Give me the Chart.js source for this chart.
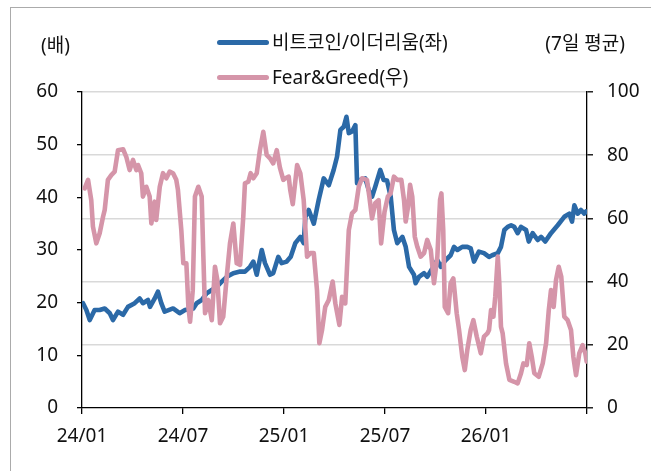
<!DOCTYPE html>
<html><head><meta charset="utf-8">
<script src="https://cdn.jsdelivr.net/npm/chart.js@4.4.1/dist/chart.umd.min.js"></script>
<style>
html,body{margin:0;padding:0;background:#fff;overflow:hidden;}
#wrap{position:relative;width:651px;height:471px;overflow:hidden;}
#frame{position:absolute;left:10px;top:7px;width:700px;height:520px;border:1.5px solid #ababab;}
canvas{position:absolute;left:0;top:0;}
.t{position:absolute;font-family:'Noto Sans','Noto Sans CJK KR',sans-serif;font-size:19px;line-height:24px;color:#111;white-space:nowrap;}
.lg{position:absolute;height:5px;border-radius:2.5px;width:52px;}
</style></head>
<body><div id="wrap"><div id="frame"></div><canvas id="c" width="651" height="471"></canvas>
<div class="t" style="left:41px;top:33px">(배)</div>
<div class="t" style="right:26px;top:31px">(7일 평균)</div>
<div id="legend"></div>
</div>
<script>
// ---- data (x = months since 2024-01) ----
const xTickMonths = [0, 6, 12, 18, 24, 30];
const xTickLabels = ['24/01', '24/07', '25/01', '25/07', '26/01', ''];

const btcEthMonths = [0.06,0.26,0.46,0.75,1.05,1.35,1.65,1.84,2.14,2.44,
2.73,3.13,3.43,3.62,3.92,4.04,4.32,4.51,4.71,4.91,
5.41,5.80,6.12,6.61,6.81,7.11,7.41,7.71,8.00,8.30,
8.60,8.99,9.39,9.68,9.98,10.18,10.38,10.68,10.87,11.17,
11.36,11.66,11.86,12.16,12.40,12.67,12.97,13.17,13.27,13.47,
13.77,14.06,14.36,14.66,14.95,15.15,15.35,15.55,15.71,15.85,
16.04,16.24,16.34,16.53,16.83,17.03,17.23,17.42,17.72,17.92,
18.12,18.34,18.53,18.73,19.03,19.23,19.43,19.72,19.82,20.02,
20.32,20.51,20.81,21.11,21.31,21.61,21.90,22.10,22.30,22.59,
22.89,23.09,23.29,23.58,23.88,24.18,24.37,24.70,24.89,25.09,
25.29,25.49,25.68,25.88,26.08,26.38,26.54,26.77,27.07,27.27,
27.52,27.86,28.26,28.65,28.95,29.11,29.25,29.45,29.64,29.84,
29.94];
const btcEthRatio = [19.9,18.6,16.7,18.6,18.6,18.9,18.0,16.7,18.3,17.7,
19.2,19.9,20.8,19.9,20.5,19.2,20.8,22.1,19.9,18.3,
18.9,18.0,18.6,18.9,19.9,20.5,21.8,22.4,23.0,24.0,
24.9,25.6,25.9,25.9,26.8,27.8,25.3,30.0,27.5,25.3,
25.6,28.7,27.5,27.8,28.7,31.3,32.5,31.3,36.3,37.6,
35.0,39.5,43.6,42.3,45.2,47.7,52.8,53.4,55.3,52.2,
52.5,53.7,42.7,43.3,43.6,41.4,40.1,42.0,45.2,43.3,
43.2,40.1,33.8,31.3,32.5,30.6,26.8,25.3,23.7,24.9,
25.6,24.9,26.5,28.1,26.8,28.1,29.0,30.6,30.0,30.6,
30.6,30.3,27.8,29.7,29.4,28.7,29.0,29.4,30.6,33.8,
34.4,34.7,34.4,33.2,34.4,33.8,31.6,33.2,31.9,32.5,
31.6,33.2,34.7,36.3,36.9,35.4,38.5,36.9,37.6,36.9,
37.3];

const fearGreedMonths = [0.16,0.36,0.55,0.65,0.85,1.05,1.25,1.35,1.54,1.74,
1.94,2.14,2.44,2.63,2.83,3.03,3.23,3.33,3.52,3.62,
3.82,4.02,4.12,4.32,4.41,4.62,4.81,5.01,5.21,5.41,
5.60,5.70,5.90,6.02,6.20,6.32,6.42,6.58,6.71,6.91,
7.11,7.21,7.31,7.50,7.71,7.90,8.04,8.20,8.39,8.60,
8.79,8.99,9.19,9.39,9.58,9.68,9.88,10.02,10.18,10.38,
10.57,10.77,10.97,11.17,11.36,11.57,11.76,11.96,12.08,12.28,
12.37,12.52,12.78,12.97,13.17,13.37,13.56,13.77,13.96,14.10,
14.26,14.45,14.66,14.89,15.05,15.29,15.45,15.64,15.85,16.04,
16.24,16.44,16.63,16.93,17.07,17.23,17.42,17.62,17.77,17.97,
18.17,18.33,18.53,18.73,18.97,19.13,19.23,19.37,19.49,19.62,
19.77,19.92,20.12,20.32,20.51,20.72,20.91,21.11,21.27,21.35,
21.46,21.55,21.75,21.90,22.06,22.26,22.40,22.59,22.74,22.89,
23.09,23.25,23.45,23.69,23.88,24.08,24.18,24.30,24.44,24.55,
24.70,24.79,24.89,24.99,25.19,25.39,25.68,25.88,26.08,26.22,
26.42,26.57,26.72,26.87,27.13,27.37,27.57,27.73,27.86,28.02,
28.16,28.32,28.47,28.65,28.85,29.05,29.19,29.35,29.54,29.74,
29.90,29.98];
const fearGreedIndex = [69.5,72.2,65.8,57.4,52.1,55.3,60.5,62.7,72.2,73.7,
74.8,81.6,81.9,79.5,75.3,78.5,75.3,76.9,74.3,66.9,
70.0,66.9,58.4,65.3,59.5,70.0,74.3,72.7,74.8,74.3,
72.2,69.0,56.3,45.8,45.8,32.0,27.3,37.3,66.9,70.0,
66.9,47.9,30.0,34.2,27.8,44.7,40.5,26.8,28.9,41.6,
52.1,58.4,45.8,45.3,60.5,71.1,71.6,74.3,72.7,74.3,
81.6,87.4,80.1,79.0,77.4,81.6,76.0,72.2,72.7,73.2,
69.0,64.5,76.9,74.3,65.8,47.9,49.0,49.0,37.3,20.5,
24.7,32.0,34.2,40.0,33.1,26.3,35.2,33.1,56.3,61.6,
62.7,70.0,72.7,72.2,66.9,60.0,64.8,65.8,52.1,62.0,
66.9,67.9,73.2,72.2,72.2,65.8,59.0,63.7,70.6,66.9,
54.2,51.0,47.9,49.0,53.2,50.0,39.5,47.9,65.8,67.9,
56.3,32.0,30.0,39.5,41.0,30.0,24.7,16.2,12.0,18.4,
24.7,27.8,22.6,17.3,22.6,23.6,24.7,31.0,28.9,35.2,
47.9,39.5,25.7,23.6,14.1,8.9,8.3,7.8,11.0,14.1,
13.6,20.5,16.2,11.0,9.9,14.1,20.5,31.0,37.3,32.0,
40.5,44.7,41.6,28.9,27.8,24.7,16.2,10.4,17.3,19.9,
17.3,14.7];

// ---- styles ----
const BLUE = '#2b69a7';
const PINK = '#d595a9';
const FONT = {family: "'Noto Sans','Noto Sans CJK KR',sans-serif", size: 19};
const TXT = '#111';

const blueDs = {label: '비트코인/이더리움(좌)', data: btcEthMonths.map((m, i) => ({x: m, y: btcEthRatio[i]})),
  yAxisID: 'yL', borderColor: BLUE, backgroundColor: BLUE, borderWidth: 4.6, pointRadius: 0, tension: 0,
  borderJoinStyle: 'round', borderCapStyle: 'round', order: 1};
const pinkDs = {label: 'Fear&Greed(우)', data: fearGreedMonths.map((m, i) => ({x: m, y: fearGreedIndex[i]})),
  yAxisID: 'yR', borderColor: PINK, backgroundColor: PINK, borderWidth: 4.6, pointRadius: 0, tension: 0,
  borderJoinStyle: 'round', borderCapStyle: 'round', order: 0};

new Chart(document.getElementById('c'), {
  type: 'line',
  data: {datasets: [blueDs, pinkDs]},
  options: {
    responsive: false, animation: false, devicePixelRatio: 1,
    layout: {padding: {top: 92, left: 0, right: 0, bottom: 0}},
    plugins: {legend: {display: false}, tooltip: {enabled: false}},
    scales: {
      x: {
        type: 'linear', min: 0, max: 30,
        afterBuildTicks: s => { s.ticks = xTickMonths.map(v => ({value: v})); },
        ticks: {callback: v => xTickLabels[xTickMonths.indexOf(v)], font: FONT, color: TXT, padding: 11, maxRotation: 0, autoSkip: false},
        grid: {drawOnChartArea: false, tickLength: 6, color: '#000', lineWidth: 1.3},
        border: {color: '#000', width: 1.3},
        afterFit: s => { s.height = 63; }
      },
      yL: {
        position: 'left', min: 0, max: 60,
        ticks: {stepSize: 10, font: FONT, color: TXT, padding: 19},
        grid: {drawOnChartArea: false, tickLength: 5, color: '#000', lineWidth: 1.3},
        border: {color: '#000', width: 1.3},
        afterFit: s => { s.width = 82; }
      },
      yR: {
        position: 'right', min: 0, max: 100,
        ticks: {stepSize: 20, font: FONT, color: TXT, padding: 14},
        grid: {color: c => (c.tick && c.tick.value === 0) ? 'rgba(0,0,0,0)' : '#d9d9d9', lineWidth: 1.6,
               tickColor: '#000', tickWidth: 1.3, tickLength: 6},
        border: {color: '#000', width: 1.3},
        afterFit: s => { s.width = 64; }
      }
    }
  }
});

// legend (HTML text, colours from the datasets)
const legendRows = [{ds: blueDs, cy: 42}, {ds: pinkDs, cy: 77}];
const lg = document.getElementById('legend');
legendRows.forEach(r => {
  const line = document.createElement('div');
  line.className = 'lg';
  line.style.background = r.ds.borderColor;
  line.style.left = '217px';
  line.style.top = (r.cy - 2.5) + 'px';
  lg.appendChild(line);
  const t = document.createElement('div');
  t.className = 't';
  t.textContent = r.ds.label;
  t.style.left = '272px';
  t.style.top = (r.cy - 12) + 'px';
  lg.appendChild(t);
});
</script>
</body></html>
